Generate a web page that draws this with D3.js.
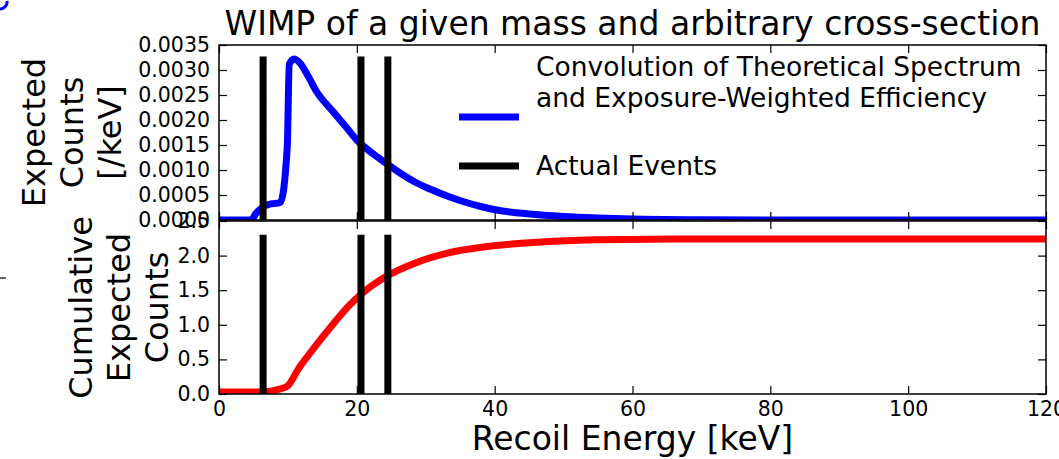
<!DOCTYPE html>
<html>
<head>
<meta charset="utf-8">
<script src="https://cdn.jsdelivr.net/npm/d3@7"></script>
<style>
  body { margin: 0; background: #fff; }
  text { font-family: "DejaVu Sans", sans-serif; fill: #000; }
</style>
</head>
<body>
<script>
const w = 1059;
const h = 459;

// data
const energyTicks = [0, 20, 40, 60, 80, 100, 120];
const rateTicks = [0, 0.0005, 0.0010, 0.0015, 0.0020, 0.0025, 0.0030, 0.0035];
const cumTicks = [0, 0.5, 1.0, 1.5, 2.0, 2.5];

const spectrumE = [0, 4.7, 5.3, 6.2, 7.2, 8.9, 9.9, 10.2, 10.9, 11.8, 12.8, 14.2, 16.6, 18.5, 20, 22.4, 24.3, 26.5, 28.7, 30.6, 33.5, 35.4, 38, 40.3, 45, 50, 55, 60, 70, 80, 120];
const spectrumRate = [0, 0, 0.00012, 0.00024, 0.00031, 0.00035, 0.00145, 0.00312, 0.00322, 0.00313, 0.00291, 0.00256, 0.00216, 0.00185, 0.0016, 0.00132, 0.00113, 0.00092, 0.00074, 0.00062, 0.00046, 0.00037, 0.00027, 0.0002, 0.00012, 0.00007, 0.00004, 0.00002, 0.000005, 0, 0];

const cumE = [0, 6, 9.1, 10, 11.5, 13.9, 16.3, 18.8, 20.6, 24.3, 28.4, 33.3, 38.1, 43, 47.3, 55, 70, 120];
const cumCounts = [0.03, 0.03, 0.08, 0.12, 0.36, 0.68, 0.98, 1.27, 1.44, 1.70, 1.89, 2.04, 2.12, 2.17, 2.20, 2.23, 2.24, 2.24];

const eventE = [6.4, 20.6, 24.5];
const eventTopRate = 0.00327;
const eventTopCum = 2.3;

const legendLabels = [["Convolution of Theoretical Spectrum", "and Exposure-Weighted Efficiency"], ["Actual Events"]];
const legendColors = ["blue", "black"];

var svg = d3.select("body")
            .append("svg")
            .attr("width", w)
            .attr("height", h);

const left = 219, right = 1046;
const topY0 = 45, topY1 = 220;
const botY0 = 221, botY1 = 394;

const xScale = d3.scaleLinear().domain([0, 120]).range([left, right]);
const yTop = d3.scaleLinear().domain([0, 0.0035]).range([topY1, topY0]);
const yBot = d3.scaleLinear().domain([0, 2.5]).range([botY1, botY0]);

// clip areas
const defs = svg.append("defs");
defs.append("clipPath").attr("id", "clipTop")
    .append("rect").attr("x", left).attr("y", topY0).attr("width", right - left).attr("height", topY1 - topY0);
defs.append("clipPath").attr("id", "clipBot")
    .append("rect").attr("x", left).attr("y", botY0).attr("width", right - left).attr("height", botY1 - botY0);

// curves
const spectrum = spectrumE.map((e, i) => [e, spectrumRate[i]]);
const cumulative = cumE.map((e, i) => [e, cumCounts[i]]);

svg.append("path")
   .datum(spectrum)
   .attr("clip-path", "url(#clipTop)")
   .attr("fill", "none")
   .attr("stroke", "blue")
   .attr("stroke-width", 7)
   .attr("stroke-linejoin", "round")
   .attr("d", d3.line().curve(d3.curveMonotoneX).x(d => xScale(d[0])).y(d => yTop(d[1])));

svg.append("path")
   .datum(cumulative)
   .attr("clip-path", "url(#clipBot)")
   .attr("fill", "none")
   .attr("stroke", "red")
   .attr("stroke-width", 7)
   .attr("stroke-linejoin", "round")
   .attr("d", d3.line().curve(d3.curveMonotoneX).x(d => xScale(d[0])).y(d => yBot(d[1])));

// event lines
svg.append("g").attr("clip-path", "url(#clipTop)")
   .selectAll("line").data(eventE).enter().append("line")
   .attr("x1", d => xScale(d)).attr("x2", d => xScale(d))
   .attr("y1", yTop(0)).attr("y2", yTop(eventTopRate))
   .attr("stroke", "black").attr("stroke-width", 7);

svg.append("g").attr("clip-path", "url(#clipBot)")
   .selectAll("line").data(eventE).enter().append("line")
   .attr("x1", d => xScale(d)).attr("x2", d => xScale(d))
   .attr("y1", yBot(0)).attr("y2", yBot(eventTopCum))
   .attr("stroke", "black").attr("stroke-width", 7);

// axes (inward ticks on all four sides)
function styleAxis(g) {
  g.select(".domain").remove();
  g.selectAll(".tick line").attr("stroke", "#000").attr("stroke-width", 1.2);
  g.selectAll(".tick text").style("font-size", "20.5px").attr("fill", "#000");
}

const tk = 8;

svg.append("g").attr("transform", "translate(" + left + ",0)")
   .call(d3.axisLeft(yTop).tickValues(rateTicks).tickSizeInner(-tk).tickSizeOuter(0).tickPadding(9).tickFormat(d3.format(".4f")))
   .call(styleAxis);
svg.append("g").attr("transform", "translate(" + right + ",0)")
   .call(d3.axisRight(yTop).tickValues(rateTicks).tickSizeInner(-tk).tickSizeOuter(0).tickFormat(""))
   .call(styleAxis);
svg.append("g").attr("transform", "translate(0," + topY0 + ")")
   .call(d3.axisTop(xScale).tickValues(energyTicks).tickSizeInner(-tk).tickSizeOuter(0).tickFormat(""))
   .call(styleAxis);
svg.append("g").attr("transform", "translate(0," + topY1 + ")")
   .call(d3.axisBottom(xScale).tickValues(energyTicks).tickSizeInner(-tk).tickSizeOuter(0).tickFormat(""))
   .call(styleAxis);

svg.append("g").attr("transform", "translate(" + left + ",0)")
   .call(d3.axisLeft(yBot).tickValues(cumTicks).tickSizeInner(-tk).tickSizeOuter(0).tickPadding(9).tickFormat(d3.format(".1f")))
   .call(styleAxis);
svg.append("g").attr("transform", "translate(" + right + ",0)")
   .call(d3.axisRight(yBot).tickValues(cumTicks).tickSizeInner(-tk).tickSizeOuter(0).tickFormat(""))
   .call(styleAxis);
svg.append("g").attr("transform", "translate(0," + botY0 + ")")
   .call(d3.axisTop(xScale).tickValues(energyTicks).tickSizeInner(-tk).tickSizeOuter(0).tickFormat(""))
   .call(styleAxis);
svg.append("g").attr("transform", "translate(0," + botY1 + ")")
   .call(d3.axisBottom(xScale).tickValues(energyTicks).tickSizeInner(-tk).tickSizeOuter(0).tickPadding(7).tickFormat(d3.format("d")))
   .call(styleAxis);

// frames
[[topY0, topY1], [botY0, botY1]].forEach(p => {
  svg.append("rect")
     .attr("x", left).attr("y", p[0])
     .attr("width", right - left).attr("height", p[1] - p[0])
     .attr("fill", "none").attr("stroke", "#000").attr("stroke-width", 1.5);
});

// title and axis labels
svg.append("text")
   .text("WIMP of a given mass and arbitrary cross-section")
   .attr("x", (left + right) / 2).attr("y", 35)
   .attr("text-anchor", "middle")
   .style("font-size", "33px");

svg.append("text")
   .text("Recoil Energy [keV]")
   .attr("x", (left + right) / 2).attr("y", 450)
   .attr("text-anchor", "middle")
   .style("font-size", "33px");

function yLabel(lines, cy, baselines) {
  const t = svg.append("text")
               .attr("transform", "translate(0," + cy + ") rotate(-90)")
               .attr("text-anchor", "middle")
               .style("font-size", "32px");
  lines.forEach((s, i) => {
    t.append("tspan").attr("x", 0).attr("y", baselines[i]).text(s);
  });
}
yLabel(["Expected", "Counts", "[/keV]"], (topY0 + topY1) / 2, [45, 83, 121]);
yLabel(["Cumulative", "Expected", "Counts"], (botY0 + botY1) / 2, [92, 130, 168]);

// legend
const legendHandleY = [117, 166];
const legendTextY = [[76, 107], [175]];
legendLabels.forEach((lines, i) => {
  svg.append("line")
     .attr("x1", 459).attr("x2", 519)
     .attr("y1", legendHandleY[i]).attr("y2", legendHandleY[i])
     .attr("stroke", legendColors[i]).attr("stroke-width", 7);
  lines.forEach((s, j) => {
    svg.append("text").text(s)
       .attr("x", 536).attr("y", legendTextY[i][j])
       .style("font-size", "26.5px");
  });
});

// small marks at the picture edges
svg.append("path")
   .attr("d", "M0,9 A7,7 0 0 0 7,1")
   .attr("fill", "none").attr("stroke", "blue").attr("stroke-width", 3);
svg.append("line")
   .attr("x1", 0).attr("x2", 6).attr("y1", 278).attr("y2", 278)
   .attr("stroke", "#333").attr("stroke-width", 1.5);
</script>
</body>
</html>
